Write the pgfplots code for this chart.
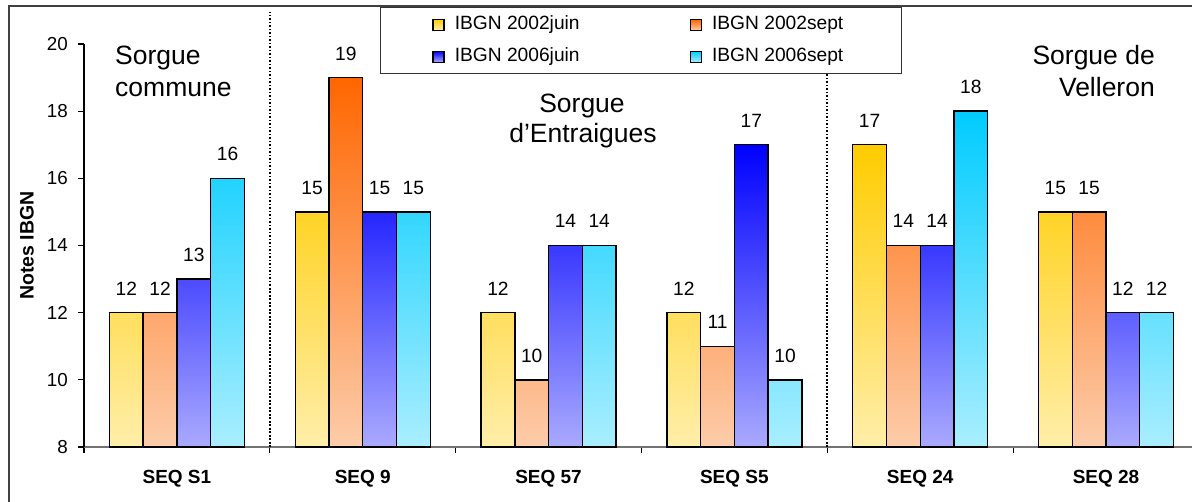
\documentclass[border=0pt]{standalone}
\usepackage{fontspec}
\setmainfont{Liberation Sans}
\usepackage{pgfplots}
\pgfplotsset{compat=1.18}
\definecolor{yTop}{RGB}{255,204,0}
\definecolor{yBot}{RGB}{255,238,170}
\definecolor{oTop}{RGB}{255,102,0}
\definecolor{oBot}{RGB}{253,204,170}
\definecolor{bTop}{RGB}{0,0,255}
\definecolor{bBot}{RGB}{170,170,255}
\definecolor{cTop}{RGB}{0,204,255}
\definecolor{cBot}{RGB}{170,238,255}
\begin{document}
\begin{tikzpicture}
\useasboundingbox (0,0) rectangle (1192pt,501pt);
\clip (0,0) rectangle (1192pt,501pt);
\fill[white] (0,0) rectangle (1192pt,501pt);
\draw[line width=1.5pt, black!75] (9pt,-10pt) -- (9pt,495pt) -- (1210pt,495pt);
\begin{axis}[
  at={(84pt,54pt)}, anchor=south west,
  scale only axis, width=1115pt, height=403pt,
  xmin=-0.5, xmax=5.5, ymin=8, ymax=20,
  clip=false,
  axis x line*=bottom, axis y line*=left,
  axis line style={-, line width=1.2pt},
  x axis line style={black!55},
  ytick={8,10,...,20},
  xtick={-0.5,0.5,...,5.5},
  x tick label as interval,
  xticklabels={SEQ S1,SEQ 9,SEQ 57,SEQ S5,SEQ 24,SEQ 28},
  tick align=outside, major tick length=6pt,
  tick style={black, line width=1.2pt},
  /pgf/number format/assume math mode=true,
  yticklabel style={font=\fontsize{18.8}{21}\selectfont, inner sep=0pt, xshift=-10pt},
  xticklabel style={font=\fontsize{19}{22}\selectfont\bfseries, inner sep=0pt, yshift=-17pt},
  ylabel={Notes IBGN},
  ylabel style={font=\fontsize{19.5}{22}\selectfont\bfseries, at={(axis description cs:-0.0511,0.5)}, anchor=center},
  ybar=0pt, bar width=33.75pt,
  nodes near coords,
  every node near coord/.append style={font=\fontsize{19.2}{21}\selectfont, anchor=base, yshift=17.5pt, inner sep=0pt, black},
  every axis plot post/.append style={legend image code/.code={\draw[##1, draw=black, line width=1.3pt] (0pt,-5.5pt) rectangle (11pt,5.5pt);}},
  legend columns=2,
  legend cell align=left,
  legend style={at={(axis description cs:0.26547,1.09181)}, anchor=north west,
    draw=black!80, line width=1pt, inner xsep=52pt, inner ysep=8.5pt,
    font=\fontsize{19.2}{21}\selectfont,
    nodes={inner sep=0pt, text height=13.5pt, text depth=4pt},
    row sep=14.5pt,
    /tikz/every odd column/.append style={column sep=10pt},
    /tikz/every even column/.append style={column sep=0pt}},
]
\addplot[top color=yTop, bottom color=yBot, draw=black, line width=1.4pt] coordinates {(0,12) (1,15) (2,12) (3,12) (4,17) (5,15)};
\addlegendentry{\makebox[235pt][l]{IBGN 2002juin}}
\addplot[top color=oTop, bottom color=oBot, draw=black, line width=1.4pt] coordinates {(0,12) (1,19) (2,10) (3,11) (4,14) (5,15)};
\addlegendentry{\makebox[137pt][l]{IBGN 2002sept}}
\addplot[top color=bTop, bottom color=bBot, draw=black, line width=1.4pt] coordinates {(0,13) (1,15) (2,14) (3,17) (4,14) (5,12)};
\addlegendentry{\makebox[235pt][l]{IBGN 2006juin}}
\addplot[top color=cTop, bottom color=cBot, draw=black, line width=1.4pt] coordinates {(0,16) (1,15) (2,14) (3,10) (4,18) (5,12)};
\addlegendentry{\makebox[137pt][l]{IBGN 2006sept}}
\draw[line width=1.8pt, dash pattern=on 1.6pt off 1.9pt] (axis cs:0.5,8) -- (axis cs:0.5,20.95);
\draw[line width=1.8pt, dash pattern=on 1.6pt off 1.9pt] (axis cs:3.5,8) -- (axis cs:3.5,20.95);
\end{axis}
\begin{scope}[every node/.style={font=\fontsize{26.5}{32}\selectfont, inner sep=0pt}]
\node[anchor=base west] at (115pt,436pt) {Sorgue};
\node[anchor=base west] at (115pt,404pt) {commune};
\node[anchor=base] at (582pt,388pt) {Sorgue};
\node[anchor=base] at (583pt,358pt) {d’Entraigues};
\node[anchor=base east] at (1155pt,436pt) {Sorgue de};
\node[anchor=base east] at (1155pt,404pt) {Velleron};
\end{scope}
\end{tikzpicture}
\end{document}
